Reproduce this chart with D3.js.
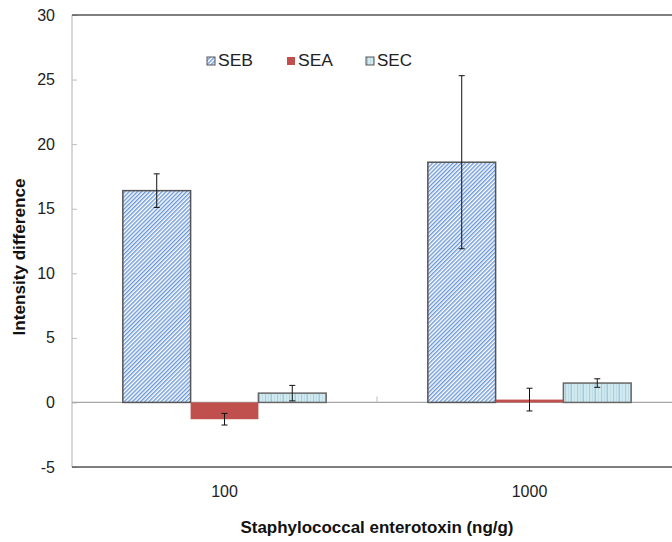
<!DOCTYPE html>
<html><head><meta charset="utf-8">
<script src="https://cdn.jsdelivr.net/npm/d3@7/dist/d3.min.js"></script>
<style>body{margin:0;background:#fff}svg{display:block}text{font-family:"Liberation Sans",Arial,sans-serif}</style>
</head><body><svg id="c" width="672" height="542"></svg>
<script>
const categories = ["100", "1000"];
const series = ["SEB", "SEA", "SEC"];
const values = {SEB: [16.4, 18.6], SEA: [-1.3, 0.22], SEC: [0.72, 1.5]};
const errors = {SEB: [1.3, 6.7], SEA: [0.45, 0.88], SEC: [0.6, 0.33]};
const yTicks = [-5, 0, 5, 10, 15, 20, 25, 30];

const svg = d3.select("#c");
const L = 72, R = 682, T = 15, B = 467;
const x = d3.scaleBand().domain(categories).range([L, R]).paddingInner(0).paddingOuter(0);
const xs = d3.scaleBand().domain(series).range([0, x.bandwidth()]).paddingInner(0).paddingOuter(0.75);
const y = d3.scaleLinear().domain([-5, 30]).range([B, T]);

const defs = svg.append("defs");
const p1 = defs.append("pattern").attr("id", "pSEB").attr("patternUnits", "userSpaceOnUse")
  .attr("width", 2.9).attr("height", 10).attr("patternTransform", "rotate(45)");
p1.append("rect").attr("width", 2.9).attr("height", 10).attr("fill", "#ffffff");
p1.append("rect").attr("width", 1.4).attr("height", 10).attr("fill", "#6b98d8");
const p3 = defs.append("pattern").attr("id", "pSEC").attr("patternUnits", "userSpaceOnUse")
  .attr("width", 12).attr("height", 10);
p3.append("rect").attr("width", 12).attr("height", 10).attr("fill", "#d3e9f0");
[[1, 1.2, "#a9d1dd"], [4, 0.8, "#b9dbe5"], [6.5, 1.5, "#a3ccd9"], [10, 0.8, "#bcdde6"]].forEach(s =>
  p3.append("rect").attr("x", s[0]).attr("width", s[1]).attr("height", 10).attr("fill", s[2]));

const fills = {SEB: "url(#pSEB)", SEA: "#c0504d", SEC: "url(#pSEC)"};
const strokes = {SEB: "#555", SEA: "none", SEC: "#666"};

// left axis line
svg.append("line").attr("x1", L).attr("x2", L).attr("y1", T).attr("y2", B).attr("stroke", "#bdbdbd").attr("stroke-width", 1.2);
const ya = svg.append("g").attr("transform", `translate(${L},0)`)
  .call(d3.axisLeft(y).tickValues(yTicks).tickFormat(d => String(d)).tickSizeInner(-5).tickSizeOuter(0).tickPadding(17));
ya.select(".domain").remove();
ya.selectAll(".tick line").attr("stroke", "#bdbdbd");
ya.selectAll(".tick text").attr("font-size", 16).attr("fill", "#222").style("font-family", '"Liberation Sans",Arial,sans-serif');

// zero line and category separator tick
svg.append("line").attr("x1", L).attr("x2", 672).attr("y1", y(0)).attr("y2", y(0)).attr("stroke", "#a6a6a6").attr("stroke-width", 1.2);
svg.append("line").attr("x1", x(categories[1])).attr("x2", x(categories[1])).attr("y1", y(0) - 6).attr("y2", y(0)).attr("stroke", "#bdbdbd");

// bars
const rows = [];
categories.forEach((c, i) => series.forEach(s => rows.push({c, s, v: values[s][i], e: errors[s][i]})));
svg.append("g").selectAll("rect").data(rows).join("rect")
  .attr("x", d => x(d.c) + xs(d.s))
  .attr("width", xs.bandwidth())
  .attr("y", d => y(Math.max(0, d.v)))
  .attr("height", d => Math.abs(y(d.v) - y(0)))
  .attr("fill", d => fills[d.s])
  .attr("stroke", d => strokes[d.s])
  .attr("stroke-width", 1.5);

// error bars
const eg = svg.append("g").attr("stroke", "#111").attr("stroke-width", 1);
rows.forEach(d => {
  const cx = x(d.c) + xs(d.s) + xs.bandwidth() / 2;
  eg.append("line").attr("x1", cx).attr("x2", cx).attr("y1", y(d.v + d.e)).attr("y2", y(d.v - d.e));
  [d.v + d.e, d.v - d.e].forEach(v => eg.append("line").attr("x1", cx - 3).attr("x2", cx + 3).attr("y1", y(v)).attr("y2", y(v)));
});

// top and bottom frame lines
svg.append("line").attr("x1", L).attr("x2", 672).attr("y1", T).attr("y2", T).attr("stroke", "#555").attr("stroke-width", 1.5);
svg.append("line").attr("x1", L).attr("x2", 672).attr("y1", B).attr("y2", B).attr("stroke", "#555").attr("stroke-width", 1.5);

// category labels
svg.append("g").selectAll("text").data(categories).join("text")
  .attr("x", d => x(d) + x.bandwidth() / 2).attr("y", 497)
  .attr("text-anchor", "middle").attr("font-size", 16).attr("fill", "#222").text(d => d);

// axis titles
svg.append("text").attr("x", 377).attr("y", 533).attr("text-anchor", "middle")
  .attr("font-size", 17).attr("font-weight", "bold").attr("fill", "#111")
  .attr("textLength", 273).attr("lengthAdjust", "spacingAndGlyphs")
  .text("Staphylococcal enterotoxin (ng/g)");
svg.append("text").attr("transform", `translate(25,257) rotate(-90)`).attr("text-anchor", "middle")
  .attr("font-size", 17).attr("font-weight", "bold").attr("fill", "#111")
  .attr("textLength", 157).attr("lengthAdjust", "spacingAndGlyphs")
  .text("Intensity difference");

// legend
const legX = {SEB: 207, SEA: 287, SEC: 366};
const lg = svg.append("g");
series.forEach(s => {
  lg.append("rect").attr("x", legX[s]).attr("y", 57).attr("width", 8).attr("height", 8)
    .attr("fill", fills[s]).attr("stroke", s === "SEA" ? "none" : "#555").attr("stroke-width", 1);
  lg.append("text").attr("x", legX[s] + 11).attr("y", 66).attr("font-size", 16).attr("fill", "#222")
    .attr("textLength", 35).attr("lengthAdjust", "spacingAndGlyphs").text(s);
});
</script></body></html>
